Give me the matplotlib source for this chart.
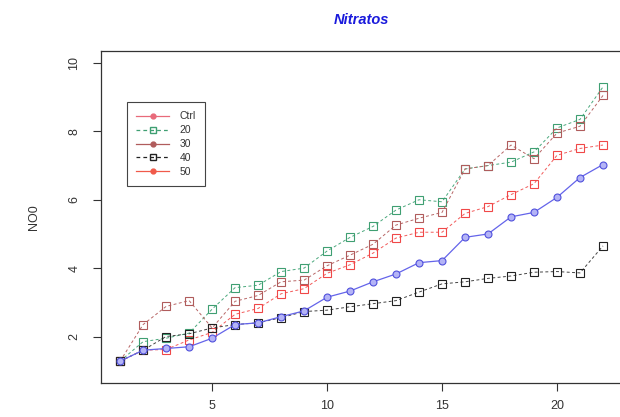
import numpy as np
import matplotlib.pyplot as plt
from matplotlib.lines import Line2D

plt.rcParams['font.family'] = ['Liberation Sans', 'DejaVu Sans']

dias = np.arange(1, 23)
ctrl = [1.28, 1.60, 1.65, 1.70, 1.95, 2.35, 2.40, 2.58, 2.75, 3.15, 3.33,
        3.60, 3.83, 4.16, 4.22, 4.90, 5.00, 5.50, 5.63, 6.07, 6.65, 7.03]
t20 = [1.28, 1.85, 1.95, 2.10, 2.80, 3.43, 3.50, 3.90, 4.00, 4.50, 4.90,
       5.22, 5.70, 6.00, 5.94, 6.90, 7.00, 7.10, 7.40, 8.10, 8.35, 9.30]
t30 = [1.28, 2.35, 2.88, 3.05, 2.25, 3.03, 3.20, 3.60, 3.65, 4.07, 4.38,
       4.70, 5.26, 5.46, 5.63, 6.90, 7.00, 7.60, 7.20, 7.95, 8.15, 9.05]
t40 = [1.28, 1.60, 2.00, 2.08, 2.25, 2.35, 2.40, 2.55, 2.73, 2.77, 2.87,
       2.96, 3.05, 3.30, 3.54, 3.60, 3.70, 3.77, 3.88, 3.90, 3.86, 4.65]
t50 = [1.28, 1.60, 1.62, 1.90, 2.12, 2.65, 2.82, 3.25, 3.40, 3.85, 4.10,
       4.44, 4.88, 5.05, 5.05, 5.60, 5.80, 6.15, 6.47, 7.30, 7.50, 7.60]

etiquetas = ["Ctrl", "20", "30", "40", "50"]

fig = plt.figure(figsize=(6.2, 4.17), dpi=100)
ax = fig.add_axes([0.163, 0.0815, 0.84, 0.797])

dash = (0, (3, 2.5))
ax.plot(dias, t20, color="#4aa87c", ls=dash, lw=0.7, marker="s", ms=5.2,
        mfc="none", mec="#3f9f72", mew=0.8)
ax.plot(dias, t30, color="#b86666", ls=dash, lw=0.7, marker="s", ms=5.2,
        mfc="none", mec="#b05c5c", mew=0.8)
ax.plot(dias, t50, color="#f25a5a", ls=dash, lw=0.7, marker="s", ms=5.2,
        mfc="none", mec="#f04848", mew=0.8)
ax.plot(dias, t40, color="#444444", ls=dash, lw=0.7, marker="s", ms=5.2,
        mfc="none", mec="#222222", mew=0.8)
ax.plot(dias, ctrl, color="#6464ea", ls="-", lw=0.9, marker="o", ms=5,
        mfc="#b4b4f6", mec="#5050dc", mew=0.8)

ax.set_xlim(0.17, 22.82)
ax.set_ylim(0.64, 10.36)
ax.set_xticks([5, 10, 15, 20])
ax.set_yticks([2, 4, 6, 8, 10])
ax.tick_params(direction="out", length=6, width=0.8, colors="#333333",
               labelsize=9, pad=6)
ax.tick_params(axis="y", pad=9)
for lab in ax.get_yticklabels():
    lab.set_rotation(90)
    lab.set_va("center")
for s in ax.spines.values():
    s.set_color("#333333")
    s.set_linewidth(0.9)

ax.set_ylabel("NO0", fontsize=9, color="#333333", labelpad=20)
ax.set_title("Nitratos", fontsize=10.5, color="#1a1adc", fontweight="bold",
             style="italic", pad=19)

# legend entries as drawn by the original script
handles = [
    Line2D([], [], color="#e86a7a", ls="-", lw=0.9, marker="o", ms=3.5),
    Line2D([], [], color="#3f9f72", ls=dash, lw=0.9, marker="s", ms=4,
           mfc="none"),
    Line2D([], [], color="#b05c5c", ls="-", lw=0.9, marker="o", ms=3.5),
    Line2D([], [], color="#222222", ls=dash, lw=0.9, marker="s", ms=4,
           mfc="none"),
    Line2D([], [], color="#f05a4a", ls="-", lw=0.9, marker="o", ms=3.5),
]
leg = ax.legend(handles, etiquetas, loc="upper left",
                bbox_to_anchor=(0.04, 0.86), fontsize=7.5, frameon=True,
                fancybox=False, framealpha=1, edgecolor="#444444",
                handlelength=3.2, labelspacing=0.38, borderpad=0.85,
                handletextpad=1.0)
leg.get_frame().set_linewidth(0.8)
for t in leg.get_texts():
    t.set_color("#333333")

fig.savefig("out.png", dpi=100)
